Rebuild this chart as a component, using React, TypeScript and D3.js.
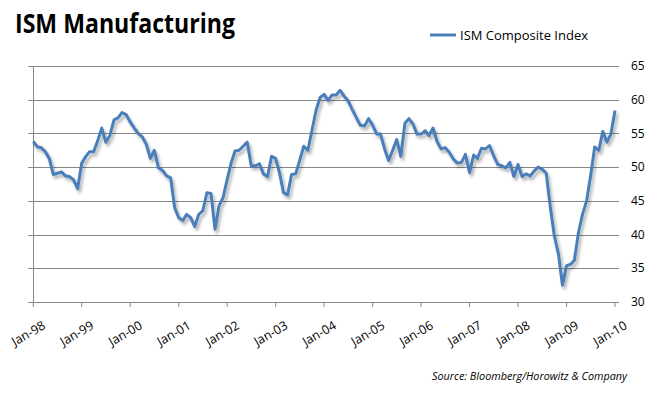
import React, { useRef, useEffect } from "react";
import * as d3 from "d3";

// monthly ISM composite index, Jan-98 .. Jan-10
const startYear = 1998;
const ism = [
  53.8, 53.0, 52.9, 52.3, 51.3, 48.9, 49.1, 49.3, 48.7, 48.6, 48.1, 46.8, // 1998
  50.6, 51.6, 52.3, 52.3, 53.9, 55.8, 53.7, 54.7, 57.0, 57.3, 58.1, 57.8, // 1999
  56.7, 55.8, 55.0, 54.5, 53.4, 51.3, 52.5, 49.9, 49.5, 48.7, 48.4, 44.0, // 2000
  42.5, 42.1, 43.0, 42.5, 41.2, 43.0, 43.5, 46.2, 46.1, 40.8, 44.3, 45.5, // 2001
  48.2, 50.7, 52.4, 52.5, 53.1, 53.7, 50.2, 50.2, 50.5, 49.0, 48.6, 51.6, // 2002
  51.3, 49.0, 46.2, 45.9, 48.9, 49.0, 51.0, 53.1, 52.5, 55.4, 58.4, 60.3, // 2003
  60.8, 59.9, 60.7, 60.7, 61.4, 60.5, 59.8, 58.5, 57.3, 56.2, 56.1, 57.2, // 2004
  56.2, 54.9, 54.9, 52.7, 51.0, 52.5, 54.1, 51.6, 56.5, 57.2, 56.4, 54.9, // 2005
  54.9, 55.4, 54.7, 55.8, 53.8, 52.7, 52.9, 52.2, 51.2, 50.6, 50.7, 51.9, // 2006
  49.2, 51.8, 51.3, 52.8, 52.7, 53.2, 51.7, 50.4, 50.2, 49.9, 50.7, 48.6, // 2007
  50.4, 48.6, 49.0, 48.7, 49.4, 50.0, 49.7, 49.1, 44.0, 39.8, 37.1, 32.5, // 2008
  35.4, 35.6, 36.2, 40.3, 43.0, 45.0, 48.7, 53.0, 52.5, 55.3, 53.7, 54.9, // 2009
  58.4, // Jan-10
];
const yTicks = [30, 35, 40, 45, 50, 55, 60, 65];
const tickYears = d3.range(1998, 2011);

const title = "ISM Manufacturing";
const seriesName = "ISM Composite Index";
const source = "Source: Bloomberg/Horowitz & Company";

const W = 660;
const H = 395;
const font = "'Open Sans', 'Liberation Sans', sans-serif";

const App = () => {
  const ref = useRef<SVGSVGElement>(null);

  useEffect(() => {
    const svg = d3.select(ref.current);
    svg.selectAll("*").remove();

    const left = 33.3, right = 615, axisEnd = 619;
    const top = 66, bottom = 302;

    const x = d3.scaleTime()
      .domain([new Date(1998, 0, 1), new Date(2010, 0, 1)])
      .range([left, right]);
    const y = d3.scaleLinear().domain([30, 65]).range([bottom, top]);

    const data = ism.map((v, i) => ({ date: new Date(startYear, i, 1), value: v }));

    // drop shadow for the series line
    const defs = svg.append("defs");
    const f = defs.append("filter").attr("id", "shadow")
      .attr("x", "-5%").attr("y", "-5%").attr("width", "110%").attr("height", "120%");
    f.append("feDropShadow")
      .attr("dx", 2).attr("dy", 3).attr("stdDeviation", 1.4)
      .attr("flood-color", "#000").attr("flood-opacity", 0.3);

    // gridlines (with short outward ticks on the left)
    svg.append("g")
      .selectAll("line")
      .data(yTicks)
      .join("line")
      .attr("x1", left - 5)
      .attr("x2", axisEnd)
      .attr("y1", (d) => Math.round(y(d)) + 0.5)
      .attr("y2", (d) => Math.round(y(d)) + 0.5)
      .attr("stroke", "#878787")
      .attr("stroke-width", 1);

    // y labels on the right
    svg.append("g")
      .selectAll("text")
      .data(yTicks)
      .join("text")
      .attr("x", 631)
      .attr("y", (d) => y(d))
      .attr("dy", "0.35em")
      .style("font-family", font)
      .style("font-size", "12px")
      .style("fill", "#000")
      .text((d) => d);

    // vertical axis line
    svg.append("line")
      .attr("x1", Math.round(left) + 0.5).attr("x2", Math.round(left) + 0.5)
      .attr("y1", top).attr("y2", bottom)
      .attr("stroke", "#878787");

    // bottom axis
    const xa = svg.append("g");
    xa.append("line")
      .attr("x1", left).attr("x2", axisEnd)
      .attr("y1", bottom + 0.5).attr("y2", bottom + 0.5)
      .attr("stroke", "#878787");
    const ticks = xa.selectAll("g.tick")
      .data(tickYears)
      .join("g")
      .attr("class", "tick")
      .attr("transform", (d) => `translate(${x(new Date(d, 0, 1))},${bottom})`);
    ticks.append("line")
      .attr("y1", 0).attr("y2", 5)
      .attr("stroke", "#878787");
    ticks.append("text")
      .attr("transform", "translate(13,26) rotate(-30)")
      .attr("text-anchor", "end")
      .style("font-family", font)
      .style("font-size", "12.5px")
      .style("fill", "#000")
      .text((d) => d3.timeFormat("Jan-%y")(new Date(d, 0, 1)));

    // the series
    const line = d3.line<{ date: Date; value: number }>()
      .x((d) => x(d.date))
      .y((d) => y(d.value));
    svg.append("path")
      .datum(data)
      .attr("d", line)
      .attr("fill", "none")
      .attr("stroke", "#4a7ebb")
      .attr("stroke-width", 3)
      .attr("stroke-linejoin", "round")
      .attr("filter", "url(#shadow)");

    // title
    svg.append("text")
      .attr("x", 15).attr("y", 33)
      .attr("textLength", 220)
      .attr("lengthAdjust", "spacingAndGlyphs")
      .style("font-family", font)
      .style("font-weight", "bold")
      .style("font-size", "26px")
      .text(title);

    // legend
    svg.append("line")
      .attr("x1", 430).attr("x2", 456)
      .attr("y1", 35).attr("y2", 35)
      .attr("stroke", "#4a7ebb").attr("stroke-width", 3);
    svg.append("text")
      .attr("x", 460).attr("y", 39.5)
      .attr("textLength", 128)
      .attr("lengthAdjust", "spacingAndGlyphs")
      .style("font-family", font)
      .style("font-size", "12.5px")
      .text(seriesName);

    // source note
    svg.append("text")
      .attr("x", 432).attr("y", 380)
      .attr("textLength", 195)
      .attr("lengthAdjust", "spacingAndGlyphs")
      .style("font-family", font)
      .style("font-style", "italic")
      .style("font-size", "11px")
      .text(source);
  }, []);

  return (
    <svg
      ref={ref}
      width={W}
      height={H}
      style={{ position: "absolute", left: 0, top: 0, background: "#fff" }}
    />
  );
};

export default App;
